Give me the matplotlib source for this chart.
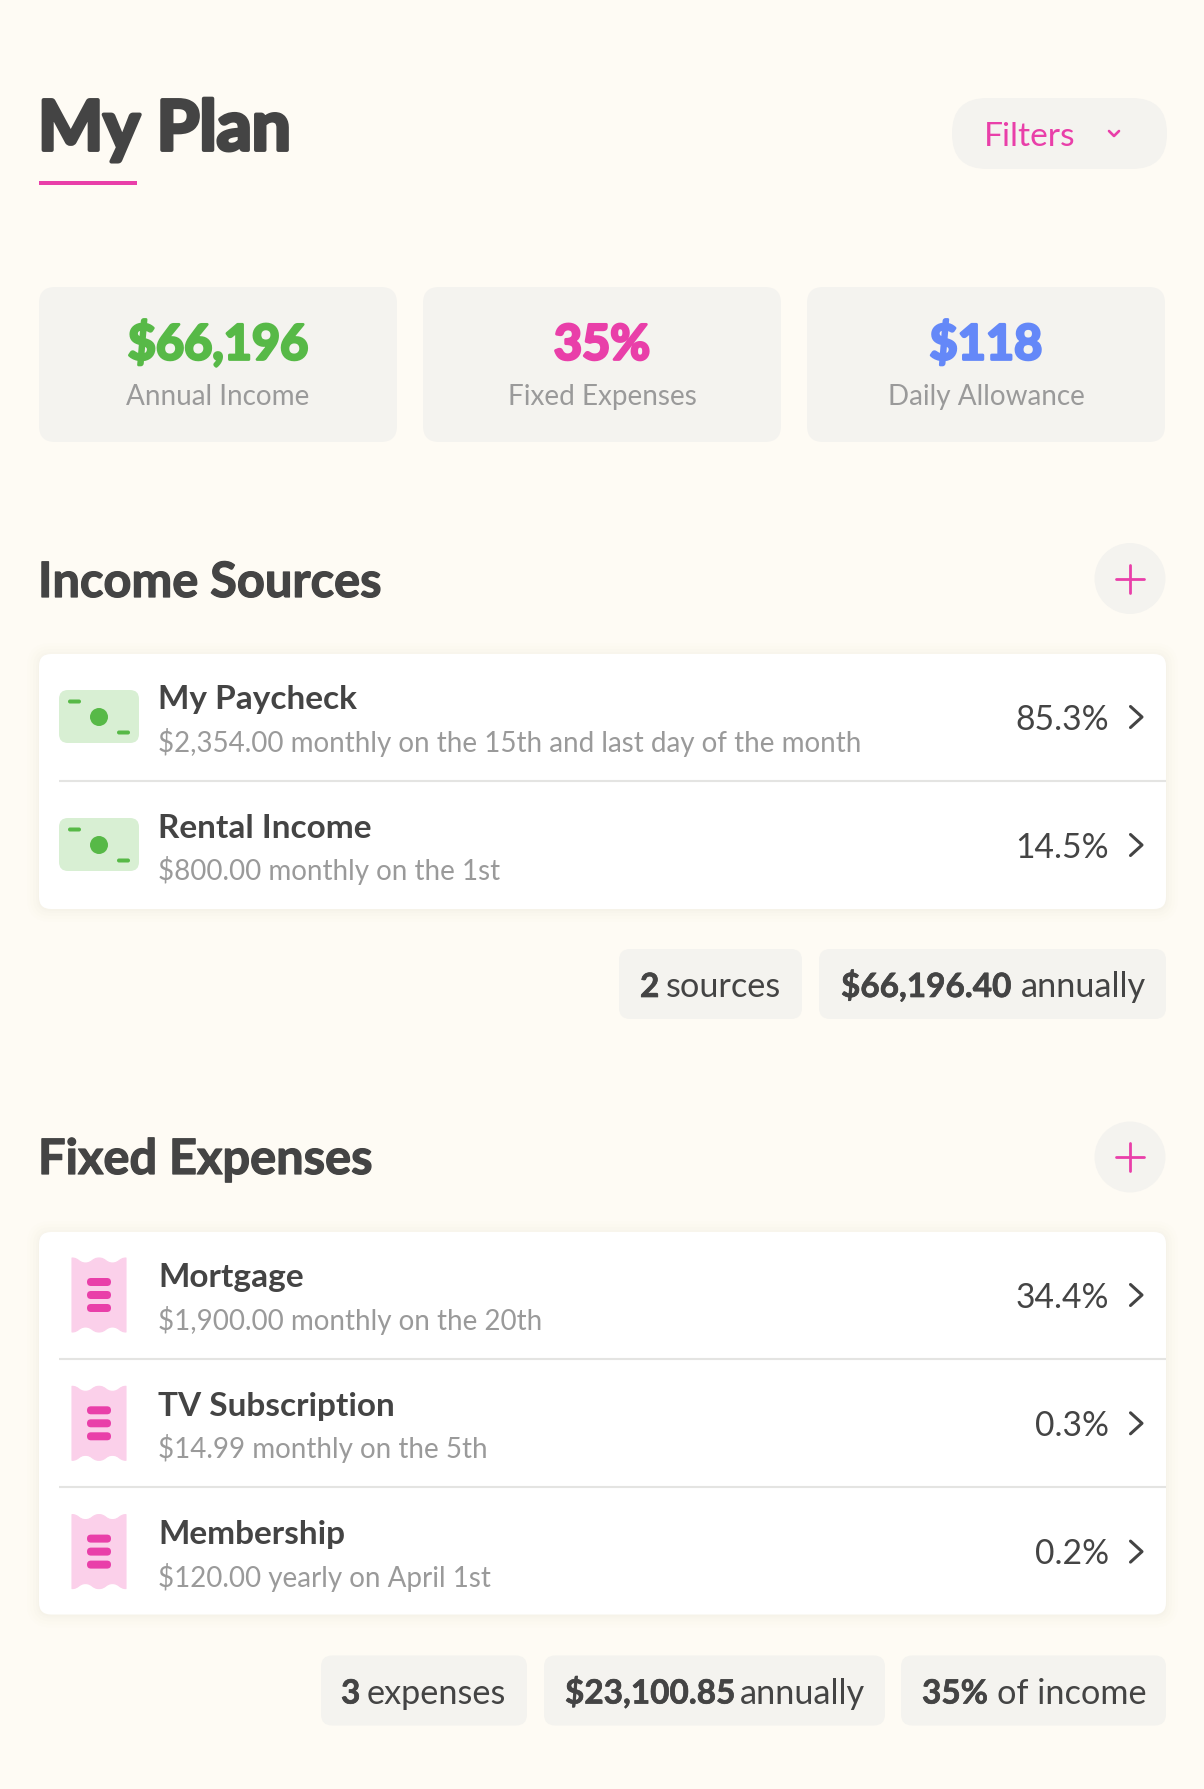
import matplotlib
matplotlib.use("Agg")
import matplotlib.pyplot as plt
import matplotlib.patheffects as pe
from matplotlib.patches import FancyBboxPatch, Circle, PathPatch
from matplotlib.path import Path

plt.rcParams['font.family'] = ['Lato', 'DejaVu Sans']

# ---- content ----
page_title = "My Plan"
filter_label = "Filters"
stat_values = ["$66,196", "35%", "$118"]
stat_labels = ["Annual Income", "Fixed Expenses", "Daily Allowance"]

income_title = "Income Sources"
income_names = ["My Paycheck", "Rental Income"]
income_details = ["$2,354.00 monthly on the 15th and last day of the month",
                  "$800.00 monthly on the 1st"]
income_shares = [85.3, 14.5]
income_pills = [("2", "sources"), ("$66,196.40", "annually")]

expense_title = "Fixed Expenses"
expense_names = ["Mortgage", "TV Subscription", "Membership"]
expense_details = ["$1,900.00 monthly on the 20th", "$14.99 monthly on the 5th",
                   "$120.00 yearly on April 1st"]
expense_shares = [34.4, 0.3, 0.2]
expense_pills = [("3", "expenses"), ("$23,100.85", "annually"), ("35%", "of income")]

# ---- colours ----
BG = "#FEFBF4"
PANEL = "#F4F3EF"
DARK = "#444444"
GREY = "#9A9A9A"
PINK = "#E93FA9"
PINK_L = "#FBD0EA"
GREEN = "#57B947"
GREEN_L = "#D8EFD3"
BLUE = "#6488F8"
LINE = "#E4E4E2"
SHADOW = "#B8A878"
stat_colors = [GREEN, PINK, BLUE]

W, H = 1204, 1789
fig = plt.figure(figsize=(W / 100, H / 100), dpi=100, facecolor=BG)
ax = fig.add_axes([0, 0, 1, 1])
ax.set_xlim(0, W)
ax.set_ylim(H, 0)
ax.axis("off")


def box(x0, y0, x1, y1, r, color, z=1, **kw):
    p = FancyBboxPatch((x0, y0), x1 - x0, y1 - y0, boxstyle=f"round,pad=0,rounding_size={r}",
                       fc=color, ec="none", zorder=z, **kw)
    ax.add_patch(p)


def txt(x, y, s, size, color=DARK, weight="normal", ha="left", heavy=0):
    t = ax.text(x, y, s, fontsize=size, color=color, fontweight=weight, ha=ha, va="baseline", zorder=5)
    if heavy:
        t.set_path_effects([pe.withStroke(linewidth=heavy, foreground=color)])


def chevron(y):
    ax.plot([1130.5, 1142, 1130.5], [y - 10.5, y, y + 10.5], color=DARK, lw=2.2,
            solid_capstyle="round", solid_joinstyle="round", zorder=5)


def plus(cy):
    ax.add_patch(Circle((1130, cy), 35.5, fc=PANEL, ec="none", zorder=2))
    ax.plot([1116, 1144], [cy, cy], color=PINK, lw=2.0, solid_capstyle="round", zorder=3)
    ax.plot([1130, 1130], [cy - 14, cy + 14], color=PINK, lw=2.0, solid_capstyle="round", zorder=3)


def card(y0, y1):
    for grow, a in [(12, .012), (9, .012), (6, .014), (3, .016), (1, .02)]:
        box(39 - grow, y0 - grow + 1, 1166 + grow, y1 + grow + 1, 12 + grow, SHADOW, z=2, alpha=a)
    box(39, y0, 1166, y1, 12, "white", z=3)


def money_icon(dy):
    box(59, 690 + dy, 139, 743 + dy, 9, GREEN_L, z=4)
    ax.add_patch(Circle((99, 717 + dy), 9, fc=GREEN, ec="none", zorder=5))
    box(68, 699.5 + dy, 81, 703.5 + dy, 2, GREEN, z=5)
    box(117, 730.5 + dy, 130, 734.5 + dy, 2, GREEN, z=5)


def receipt_icon(dy):
    t, d = 1258 + dy, 1263 + dy
    b, u = 1332 + dy, 1327 + dy
    xs = [72, 85.5, 99, 112.5, 126]
    top = [t, d, t, d, t]
    bot = [b, u, b, u, b]
    verts = [(xs[0], top[0])]
    codes = [Path.MOVETO]
    for i in range(4):
        m = (xs[i] + xs[i + 1]) / 2
        verts += [(m, top[i]), (m, top[i + 1]), (xs[i + 1], top[i + 1])]
        codes += [Path.CURVE4] * 3
    verts.append((xs[4], bot[4]))
    codes.append(Path.LINETO)
    for i in range(4, 0, -1):
        m = (xs[i] + xs[i - 1]) / 2
        verts += [(m, bot[i]), (m, bot[i - 1]), (xs[i - 1], bot[i - 1])]
        codes += [Path.CURVE4] * 3
    verts.append((xs[0], top[0]))
    codes.append(Path.CLOSEPOLY)
    ax.add_patch(PathPatch(Path(verts, codes), fc=PINK_L, ec=PINK_L, lw=0.8, joinstyle="round", zorder=4))
    for yy in (1282, 1295, 1308):
        box(87, yy - 4 + dy, 111, yy + 4 + dy, 4, PINK, z=5)


# ---- header ----
txt(38, 150, page_title, 49.8, DARK, "bold", heavy=2.8)
ax.add_patch(plt.Rectangle((39, 181), 98, 4, fc=PINK, ec="none"))
box(952, 98, 1167, 169, 35, PANEL)
txt(984, 146, filter_label, 24.1, PINK)
ax.plot([1109, 1114, 1119], [131, 136, 131], color=PINK, lw=1.9, solid_capstyle="round",
        solid_joinstyle="round", zorder=5)

# ---- stat cards ----
for x0, v, lab, c in zip([39, 423, 807], stat_values, stat_labels, stat_colors):
    box(x0, 287, x0 + 358, 442, 16, PANEL)
    txt(x0 + 179, 359.5, v, 35, c, "bold", "center", heavy=2.0)
    txt(x0 + 179, 405, lab, 20.1, GREY, "normal", "center")


def section(title, base, plus_y, card_y0, card_y1, rows, names, details, shares, icon, pills, pill_y):
    txt(38, base, title, 35.1, DARK, "bold", heavy=0.9)
    plus(plus_y)
    n = len(names)
    card(card_y0, card_y1)
    for i, (nm, de, sh) in enumerate(zip(names, details, shares)):
        dy = i * rows
        icon(dy)
        txt(158.5, card_y0 + 55.5 + dy, nm, 24, DARK, "bold")
        txt(158.5, card_y0 + 98 + dy, de, 20, GREY)
        txt(1109, card_y0 + 75.5 + dy, f"{sh}%", 24.2, DARK, "normal", "right")
        chevron(card_y0 + 63 + dy)
        if i < n - 1:
            ax.plot([59, 1166], [card_y0 + 127 + dy] * 2, color=LINE, lw=1.5, zorder=4,
                    solid_capstyle="butt")
    for (x0, x1, xb, xr), (b, r) in zip(pill_y["boxes"], pills):
        box(x0, pill_y["y0"], x1, pill_y["y0"] + 70, 11, PANEL)
        txt(xb, pill_y["y0"] + 48, b, 24, DARK, "bold", heavy=0.5)
        txt(xr, pill_y["y0"] + 48, r, 24.7, DARK)


section(income_title, 597, 578.5, 654, 909, 128, income_names, income_details, income_shares, money_icon,
        income_pills, {"y0": 949, "boxes": [(619, 802, 640, 666), (819, 1166, 841, 1021)]})
section(expense_title, 1174, 1157, 1232, 1614.5, 128.3, expense_names, expense_details, expense_shares,
        receipt_icon, expense_pills,
        {"y0": 1655.5, "boxes": [(321, 527, 341, 367), (544, 885, 565, 740), (901, 1166, 922, 997)]})

fig.savefig("out.png", dpi=100, facecolor=BG)
